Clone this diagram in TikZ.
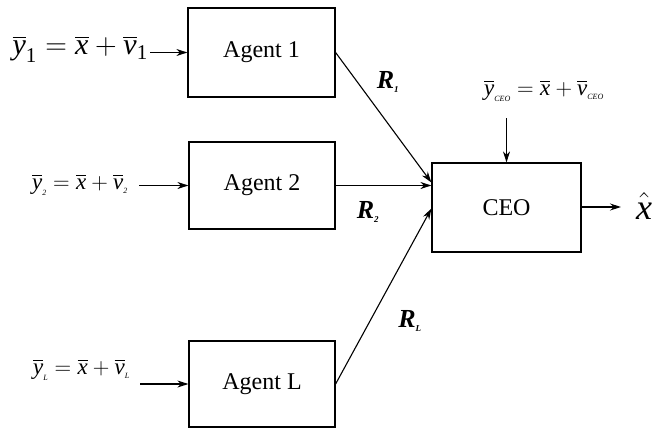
\RequirePackage{fix-cm}
\documentclass[tikz,border=0pt]{standalone}
\usepackage{amsmath}
\usepackage{fontspec}
\setmainfont{Liberation Serif}
\usetikzlibrary{arrows.meta,calc}
\newcommand{\ov}[1]{\overline{\mbox{\itshape #1}}}
\newcommand{\sub}[1]{\mbox{\itshape\fontsize{8}{9}\selectfont #1}}
\newcommand{\rsub}[1]{\mbox{\bfseries\itshape\fontsize{9}{10}\selectfont #1}}
\begin{document}
\begin{tikzpicture}[x=1pt,y=-1pt,
  block/.style={draw, line width=1.2pt, inner sep=0pt, font=\fontsize{24}{27}\selectfont},
  arr/.style={line width=1.1pt, -{Stealth[length=11pt,width=7pt]}},
  lab/.style={inner sep=0pt},
  rlab/.style={inner sep=0pt, font=\fontsize{26}{29}\selectfont}]
\useasboundingbox (0,0) rectangle (658,428);

% agent blocks and the CEO
\node[block, minimum width=147pt, minimum height=89pt] (a1) at (261.5,52.5) {Agent 1};
\node[block, minimum width=146pt, minimum height=87pt] (a2) at (262,185.5) {Agent 2};
\node[block, minimum width=146pt, minimum height=86pt] (aL) at (262,384) {Agent L};
\node[block, minimum width=149pt, minimum height=89pt] (ceo) at (506.5,207.5) {CEO};

% observations fed to each agent
\node[lab, anchor=east, font=\fontsize{30}{34}\selectfont, inner xsep=2pt] (in1) at (150,49)
  {$\ov{y}_{\text{1}} = \ov{x} + \ov{v}_{\text{1}}$};
\node[lab, anchor=east, font=\fontsize{23}{26}\selectfont, inner xsep=11pt] (in2) at (139,185)
  {$\ov{y}_{\sub{2}} = \ov{x} + \ov{v}_{\sub{2}}$};
\node[lab, anchor=east, font=\fontsize{23}{26}\selectfont, inner xsep=10pt] (inL) at (140,370)
  {$\ov{y}_{\sub{L}} = \ov{x} + \ov{v}_{\sub{L}}$};
\node[lab, font=\fontsize{23}{26}\selectfont] (inC) at (544,91)
  {$\ov{y}_{\sub{CEO}} = \ov{x} + \ov{v}_{\sub{CEO}}$};

\draw[arr] (in1.east |- a1.west) -- (a1.west);
\draw[arr] (in2.east |- a2.west) -- (a2.west);
\draw[arr] (inL.east |- aL.west) -- (aL.west);

% reports to the CEO
\draw[arr] (a1.east) -- ($(ceo.west)+(0,-25)$);
\draw[arr] (a2.east) -- (ceo.west |- a2.east);
\draw[arr] (aL.east) -- ($(ceo.west)+(0,1)$);
\coordinate (cin) at (ceo.north |- 0,118);
\draw[arr] (cin) -- (ceo.north);

% estimate
\node[lab, anchor=west, font=\fontsize{36}{40}\selectfont] (xhat) at (636,206) {$\hat{\mbox{\itshape x}}$};
\coordinate (out) at (621,207);
\draw[arr] (ceo.east |- out) -- (out);

% rate labels
\node[rlab] (r1) at (388,82) {\textbf{\textit{R}}$_{\rsub{1}}$};
\node[rlab] (r2) at (368,212) {\textbf{\textit{R}}$_{\rsub{2}}$};
\node[rlab] (rL) at (410,321) {\textbf{\textit{R}}$_{\rsub{L}}$};
\end{tikzpicture}
\end{document}
